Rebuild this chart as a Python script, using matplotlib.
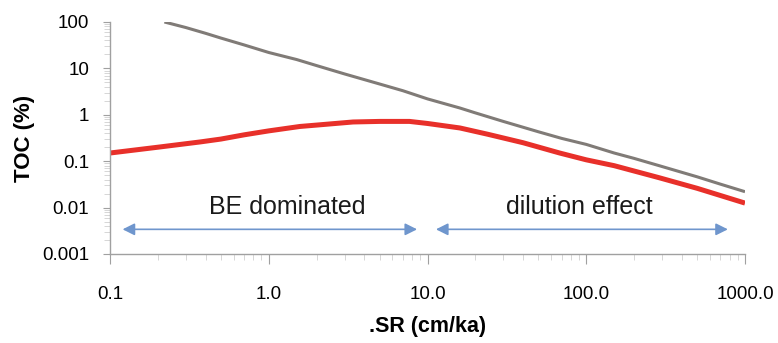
import numpy as np
import matplotlib
matplotlib.use("Agg")
import matplotlib.pyplot as plt
from matplotlib.ticker import NullFormatter

plt.rcParams['font.family'] = ['Liberation Sans', 'DejaVu Sans']

# sedimentation rate (cm/ka) and TOC (%)
sr_gray = [0.22, 0.3, 0.4, 0.5, 0.7, 1.0, 1.5, 2.0, 3.0, 5.0, 7.0, 10.0, 16.0,
           20.0, 30.0, 50.0, 70.0, 100.0, 150.0, 200.0, 288.0, 500.0, 700.0, 1000.0]
toc_gray = [100, 76, 57, 45, 32, 22, 15.5, 11.5, 7.6, 4.6, 3.3, 2.2, 1.4,
            1.1, 0.72, 0.43, 0.31, 0.23, 0.15, 0.115, 0.08, 0.046, 0.032, 0.022]

sr_red = [0.1, 0.2, 0.37, 0.5, 0.7, 1.0, 1.57, 2.0, 3.4, 5.0, 7.7, 10.0, 16.0,
          24.0, 40.0, 68.0, 100.0, 150.0, 288.0, 500.0, 1000.0]
toc_red = [0.15, 0.2, 0.26, 0.3, 0.37, 0.45, 0.56, 0.6, 0.7, 0.72, 0.72, 0.65, 0.52,
           0.38, 0.25, 0.15, 0.107, 0.08, 0.044, 0.026, 0.0125]

xticks = [0.1, 1, 10, 100, 1000]
xlabels = ["0.1", "1.0", "10.0", "100.0", "1000.0"]
yticks = [0.001, 0.01, 0.1, 1, 10, 100]
ylabels = ["0.001", "0.01", "0.1", "1", "10", "100"]

fig = plt.figure(figsize=(7.78, 3.43), dpi=100)
ax = fig.add_axes([0.1414, 0.2595, 0.8162, 0.6764])

ax.plot(sr_gray, toc_gray, color="#807b77", lw=2.2, solid_capstyle="butt")
ax.plot(sr_red, toc_red, color="#e8302a", lw=3.6, solid_capstyle="butt")

ax.set_xscale("log")
ax.set_yscale("log")
ax.set_xlim(0.1, 1000)
ax.set_ylim(0.001, 100)

ax.set_xticks(xticks)
ax.set_xticklabels(xlabels)
ax.set_yticks(yticks)
ax.set_yticklabels(ylabels)
ax.xaxis.set_minor_formatter(NullFormatter())
ax.yaxis.set_minor_formatter(NullFormatter())

for s in ["top", "right"]:
    ax.spines[s].set_visible(False)
for s in ["left", "bottom"]:
    ax.spines[s].set_color("#a0a0a0")
    ax.spines[s].set_linewidth(1.0)

ax.tick_params(axis="x", which="major", length=7, color="#a0a0a0", pad=16, labelsize=13.5)
ax.tick_params(axis="y", which="major", length=5, color="#a0a0a0", pad=10, labelsize=13.5)
ax.tick_params(which="minor", length=4, color="#d0d0d0")

fig.text(0.032, 0.595, "TOC (%)", fontsize=16, fontweight="bold", rotation=90,
         ha="center", va="center")
fig.text(0.55, 0.047, ".SR (cm/ka)", fontsize=15.5, fontweight="bold",
         ha="center", va="center")

# range arrows
arrow_kw = dict(arrowstyle="<|-|>", color="#6f96cd", lw=1.2, mutation_scale=18,
                shrinkA=0, shrinkB=0)
ax.annotate("", xy=(0.12, 0.0034), xytext=(8.6, 0.0034), arrowprops=arrow_kw)
ax.annotate("", xy=(11.3, 0.0034), xytext=(780, 0.0034), arrowprops=arrow_kw)

ax.text(1.3, 0.0105, "BE dominated", fontsize=18, ha="center", va="center", color="#1a1a1a")
ax.text(90, 0.0105, "dilution effect", fontsize=18, ha="center", va="center", color="#1a1a1a")

fig.savefig("out.png", dpi=100)
